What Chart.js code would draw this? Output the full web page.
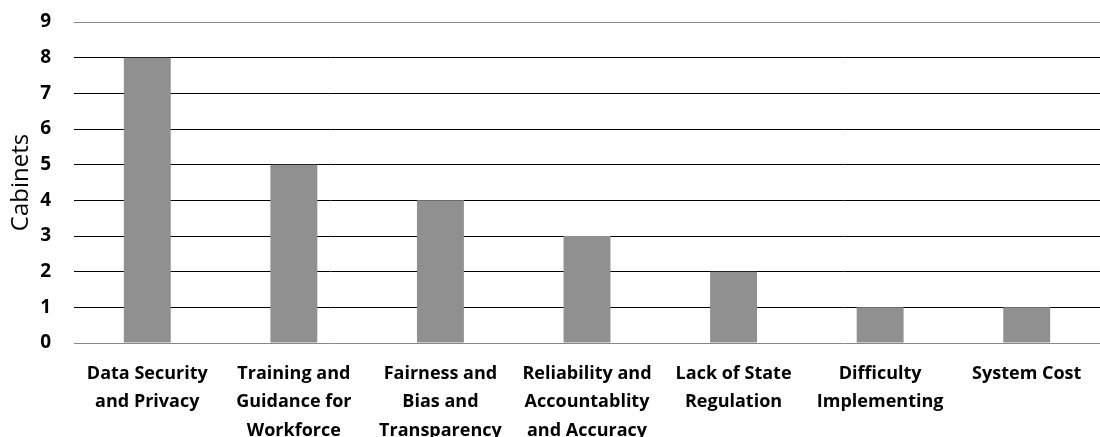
<!DOCTYPE html>
<html><head><meta charset="utf-8">
<script src="https://cdn.jsdelivr.net/npm/chart.js@4/dist/chart.umd.min.js"></script>
<style>html,body{margin:0;padding:0;background:#fff}#wrap{width:1100px;height:437px}</style>
</head><body><div id="wrap"><canvas id="c"></canvas></div>
<script>
const categories = [
  ["Data Security","and Privacy"],
  ["Training and","Guidance for","Workforce"],
  ["Fairness and","Bias and","Transparency"],
  ["Reliability and","Accountablity","and Accuracy"],
  ["Lack of State","Regulation"],
  ["Difficulty","Implementing"],
  ["System Cost"]
];
const cabinets = [8, 5, 4, 3, 2, 1, 1];
const yTicks = [0,1,2,3,4,5,6,7,8,9];
const FONT = "'Open Sans', sans-serif";
new Chart(document.getElementById('c'), {
  type: 'bar',
  data: { labels: categories, datasets: [{ data: cabinets, backgroundColor: '#909090', barPercentage: 0.32, categoryPercentage: 1 }] },
  options: {
    responsive: true, maintainAspectRatio: false, animation: false,
    layout: { padding: { top: 22, right: 0, left: 7, bottom: 0 } },
    plugins: { legend: { display: false }, tooltip: { enabled: false } },
    scales: {
      x: {
        grid: { display: false, drawTicks: false },
        border: { display: false },
        ticks: { color: '#000', font: { family: FONT, size: 18, weight: 'bold', lineHeight: 1.6 }, maxRotation: 0, autoSkip: false, padding: 16 },
        afterFit: s => { s.height = 94; s.paddingTop = 0; }
      },
      y: {
        min: 0, max: 9,
        afterBuildTicks: s => { s.ticks = yTicks.map(v => ({ value: v })); },
        grid: { color: c => (c.tick && (c.tick.value === 0 || c.tick.value === 9)) ? '#878787' : '#000', lineWidth: 1, drawTicks: false },
        border: { display: false },
        ticks: { color: '#000', font: { family: FONT, size: 19, weight: 'bold' }, padding: 23 },
        title: { display: true, text: 'Cabinets', color: '#000', font: { family: FONT, size: 24 }, padding: { top: 0, bottom: 0 } },
        afterFit: s => { s.width = 67; s.paddingTop = 0; }
      }
    }
  }
});
</script></body></html>
